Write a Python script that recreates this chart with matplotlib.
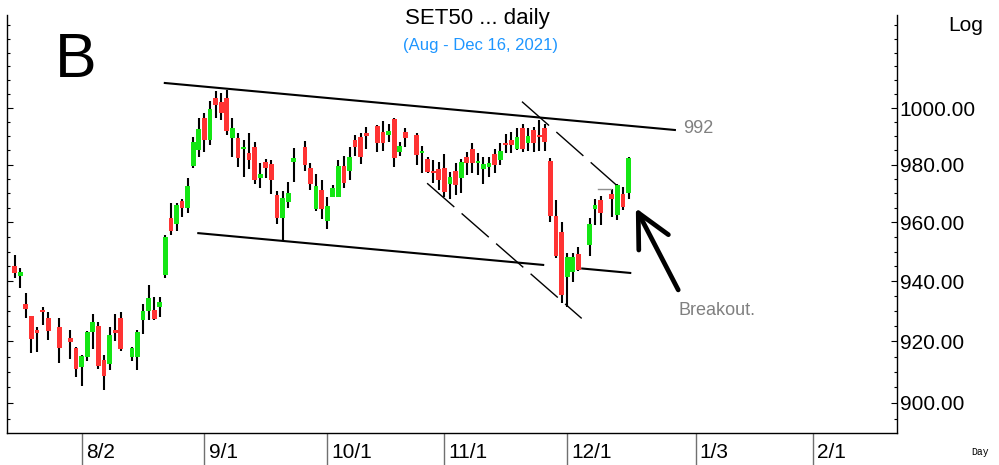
import numpy as np
import pandas as pd
import matplotlib
matplotlib.use('Agg')
import matplotlib.pyplot as plt
import matplotlib.transforms as mtrans
from matplotlib.ticker import FixedLocator, FormatStrFormatter, NullFormatter

plt.rcParams['font.family'] = ['Liberation Sans', 'DejaVu Sans']

# trading calendar (x axis counts weekdays from the first bar, holidays leave gaps)
start = '2021-07-15'
end = '2021-12-16'
holidays = ['2021-07-26', '2021-07-28', '2021-08-12', '2021-09-24',
            '2021-10-13', '2021-10-22', '2021-12-06', '2021-12-10']

# SET50 daily OHLC
opens = [945.1, 941.8, 932.5, 928.4, 923.8, 930.1, 927.6, 924.7, 921.0, 917.9,
         911.5, 915.0, 923.0, 925.0, 913.8, 912.7, 923.8, 927.8, 914.8, 914.8,
         927.0, 930.2, 930.4, 931.5, 942.0, 961.6, 959.4, 967.4, 965.0, 979.6,
         985.1, 996.5, 988.6, 1003.7, 1002.3, 1003.5, 989.2, 989.2, 985.5, 984.0,
         986.3, 975.2, 981.0, 980.1, 969.4, 961.6, 966.9, 980.8, 986.3, 978.9,
         964.6, 971.1, 960.6, 968.8, 968.8, 979.6, 977.8, 988.6, 989.8, 991.0,
         993.6, 991.6, 990.4, 996.0, 984.5, 991.6, 990.6, 984.2, 981.9, 977.8,
         978.3, 978.7, 973.2, 977.9, 975.2, 982.8, 985.4, 980.4, 978.3, 979.0,
         983.6, 981.6, 987.7, 988.6, 985.4, 992.8, 987.7, 992.2, 990.3, 992.8,
         981.4, 962.2, 956.7, 941.3, 943.2, 949.1, 952.3, 964.5, 967.7, 969.8,
         962.5, 969.8, 970.0]
highs = [948.8, 944.3, 936.2, 928.5, 924.9, 931.3, 929.7, 927.8, 923.8, 918.2,
         915.5, 923.5, 929.0, 926.5, 915.6, 924.8, 929.1, 929.6, 918.3, 923.8,
         932.4, 938.7, 934.8, 934.6, 955.5, 966.5, 966.7, 968.2, 975.4, 989.8,
         996.5, 998.1, 1002.6, 1006.1, 1005.3, 1006.5, 996.3, 991.0, 988.6, 991.0,
         988.0, 980.4, 982.0, 981.6, 970.8, 970.8, 974.0, 985.9, 988.3, 980.4,
         976.6, 974.6, 968.6, 972.9, 981.6, 983.0, 986.3, 990.4, 991.0, 993.1,
         993.9, 995.5, 994.5, 996.3, 988.0, 992.8, 991.2, 986.5, 982.8, 981.6,
         981.0, 983.7, 977.5, 980.6, 981.9, 984.5, 987.5, 984.2, 982.5, 982.8,
         985.4, 987.5, 990.7, 991.6, 992.8, 994.5, 992.8, 993.1, 995.7, 994.4,
         982.4, 967.7, 960.2, 949.4, 949.4, 951.6, 961.4, 968.2, 969.1, 971.4,
         973.4, 972.1, 982.5]
lows = [941.1, 937.8, 927.6, 916.3, 916.5, 925.5, 920.5, 912.9, 914.4, 908.4,
        905.5, 913.6, 917.4, 911.0, 904.1, 910.7, 920.3, 917.0, 913.7, 910.6,
        922.5, 927.2, 927.0, 928.1, 941.2, 955.6, 957.1, 961.7, 963.3, 978.7,
        982.8, 984.5, 986.9, 996.3, 995.7, 990.3, 982.8, 979.2, 975.8, 978.5,
        973.4, 971.9, 975.4, 969.7, 959.6, 953.6, 965.0, 973.8, 977.8, 971.1,
        963.9, 961.0, 957.6, 968.6, 968.6, 972.0, 974.6, 983.1, 980.2, 985.4,
        984.5, 984.9, 988.0, 979.2, 983.0, 986.1, 979.9, 977.2, 977.0, 973.7,
        971.1, 968.6, 967.9, 969.4, 970.0, 976.3, 976.9, 976.3, 973.4, 975.8,
        976.9, 979.9, 984.0, 984.0, 985.1, 984.5, 984.9, 984.5, 984.7, 984.9,
        960.2, 947.7, 932.8, 931.5, 939.8, 943.5, 948.6, 959.0, 959.0, 962.0,
        960.8, 964.2, 968.2]
closes = [942.7, 943.2, 930.6, 920.7, 922.9, 929.7, 923.6, 918.0, 919.8, 910.9,
          915.2, 923.1, 926.3, 911.9, 908.6, 922.2, 922.9, 917.4, 918.0, 923.0,
          930.2, 934.4, 927.4, 933.0, 954.9, 957.1, 965.9, 965.0, 972.6, 988.0,
          992.5, 988.6, 999.5, 1001.1, 998.2, 991.8, 993.0, 982.4, 986.3, 981.6,
          974.8, 976.6, 978.9, 974.8, 961.4, 968.3, 970.0, 982.4, 979.9, 973.1,
          972.5, 964.5, 965.7, 971.9, 979.6, 973.7, 982.8, 986.3, 982.8, 990.2,
          987.7, 987.7, 991.9, 982.4, 986.5, 989.2, 983.4, 984.9, 977.5, 977.2,
          974.8, 970.5, 975.8, 972.9, 981.0, 980.6, 980.6, 981.4, 980.1, 980.6,
          979.9, 984.9, 986.9, 986.9, 989.8, 985.4, 990.0, 987.5, 989.6, 988.0,
          962.2, 948.5, 935.3, 948.3, 948.3, 943.8, 959.4, 965.9, 963.3, 967.9,
          972.9, 965.4, 982.2]

month_dates = ['2021-08-02', '2021-09-01', '2021-10-01', '2021-11-01',
               '2021-12-01', '2022-01-03', '2022-02-01']
month_labels = ['8/2', '9/1', '10/1', '11/1', '12/1', '1/3', '2/1']
price_ticks = [900, 920, 940, 960, 980, 1000]

# hand-drawn lines: (weekday position, price)
upper_channel = [(26.9, 1009.0), (118.3, 992.2)]
lower_channel = [(32.9, 956.3), (110.3, 942.8)]
lower_gap = (94.7, 101.7)
fall_line_1 = [(73.9, 973.5), (101.6, 927.6)]
fall_line_2 = [(90.9, 1002.3), (107.8, 972.9)]
mark_line = [(104.6, 971.5), (106.9, 971.5)]
arrow_from = (118.9, 937.1)
arrow_to = (111.3, 964.9)

days = pd.bdate_range(start, end)
days = days[~days.isin(pd.to_datetime(holidays))]
d64 = days.values.astype('datetime64[D]')
x = np.busday_count(np.datetime64(start), d64)
o = np.array(opens); h = np.array(highs); l = np.array(lows); c = np.array(closes)

fig = plt.figure(figsize=(9.99, 4.65), dpi=100)
ax = fig.add_axes([0.0075, 0.0688, 0.8904, 0.8989])
ax.set_yscale('log')

up = c >= o
cols = np.where(up, '#14E614', '#FF3333')
ax.vlines(x, l, h, color='black', lw=1.5, zorder=2)
body_lo = np.minimum(o, c)
body_h = np.maximum(np.abs(c - o), 0.6)
ax.bar(x, body_h, bottom=body_lo, width=0.85, color=cols, zorder=3, linewidth=0)


def log_interp(p0, p1, xs):
    t = (np.asarray(xs) - p0[0]) / (p1[0] - p0[0])
    return np.exp(np.log(p0[1]) + t * (np.log(p1[1]) - np.log(p0[1])))


ax.plot([p[0] for p in upper_channel], [p[1] for p in upper_channel],
        color='black', lw=1.5, zorder=4)
p0, p1 = lower_channel
for xa, xb in [(p0[0], lower_gap[0]), (lower_gap[1], p1[0])]:
    ax.plot([xa, xb], log_interp(p0, p1, [xa, xb]), color='black', lw=1.5, zorder=4)
for seg in [fall_line_1, fall_line_2]:
    ax.plot([p[0] for p in seg], [p[1] for p in seg], color='black', lw=1.0,
            dashes=(26, 7), zorder=4)
ax.plot([p[0] for p in mark_line], [p[1] for p in mark_line], color='#909090', lw=1.0, zorder=4)

ax.annotate('', xy=arrow_to, xytext=arrow_from,
            arrowprops=dict(arrowstyle='->, head_length=0.6, head_width=0.3',
                            lw=3.4, color='black', mutation_scale=40,
                            shrinkA=0, shrinkB=0), zorder=5)

ax.text(119.8, 992.9, '992', color='#808080', fontsize=13, va='center', ha='left')
ax.text(118.9, 930.4, 'Breakout.', color='#808080', fontsize=13, va='center', ha='left')

# axes cosmetics
ax.spines['top'].set_visible(False)
for s in ['left', 'right', 'bottom']:
    ax.spines[s].set_linewidth(1.0)
    ax.spines[s].set_color('black')
ax.set_xlim(-1.29, 158.1)
ax.set_ylim(890.4, 1033.8)

ax.yaxis.set_major_locator(FixedLocator(price_ticks))
ax.yaxis.set_minor_locator(FixedLocator([v for v in range(890, 1035, 5) if v not in price_ticks]))
ax.yaxis.set_major_formatter(FormatStrFormatter('%.2f'))
ax.yaxis.set_minor_formatter(NullFormatter())
ax.tick_params(axis='y', which='both', left=True, right=True, labelleft=False,
               labelright=True, direction='in', colors='black', width=0.8)
ax.tick_params(axis='y', which='major', length=4, labelsize=15, pad=2)
ax.tick_params(axis='y', which='minor', length=2)

mpos = np.busday_count(np.datetime64(start), np.array(month_dates, dtype='datetime64[D]'))
ax.set_xticks(mpos)
ax.set_xticklabels(month_labels)
ax.xaxis.set_minor_locator(FixedLocator([]))
ax.tick_params(axis='x', which='major', direction='out', length=24, width=1.0,
               color='#707070', labelsize=15, pad=-17)
shift = mtrans.ScaledTranslation(3 / 72, 0, fig.dpi_scale_trans)
for lab in ax.get_xticklabels():
    lab.set_horizontalalignment('left')
    lab.set_transform(lab.get_transform() + shift)
    lab.set_family(['Liberation Sans Narrow', 'Liberation Sans'])

fig.text(0.478, 0.961, 'SET50 ... daily', ha='center', va='center', fontsize=16)
fig.text(0.481, 0.903, '(Aug - Dec 16, 2021)', ha='center', va='center',
         fontsize=12, color='#1E96FF')
fig.text(0.076, 0.869, 'B', ha='center', va='center', fontsize=45)
fig.text(0.967, 0.946, 'Log', ha='center', va='center', fontsize=15)
fig.text(0.981, 0.028, 'Day', ha='center', va='center', fontsize=7,
         family=['Liberation Mono', 'DejaVu Sans Mono'])

fig.savefig('out.png', dpi=100)
